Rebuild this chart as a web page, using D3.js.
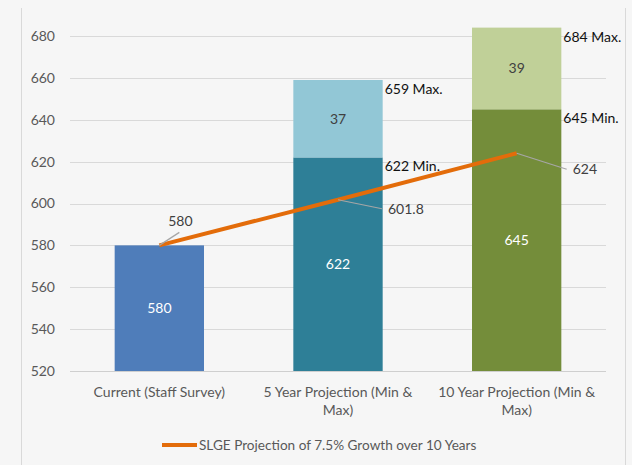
<!DOCTYPE html>
<html>
<head>
<meta charset="utf-8">
<script src="https://cdn.jsdelivr.net/npm/d3@7"></script>
<style>
  html, body { margin: 0; padding: 0; background: #f6f6f6; }
  svg { display: block; font-family: Lato, "Open Sans", sans-serif; }
</style>
</head>
<body>
<div id="chart"></div>
<script>
// data
const categories = ["Current (Staff Survey)", "5 Year Projection (Min & Max)", "10 Year Projection (Min & Max)"];
const categoryLines = [["Current (Staff Survey)"], ["5 Year Projection (Min &", "Max)"], ["10 Year Projection (Min &", "Max)"]];
const minValues = [580, 622, 645];
const rangeValues = [0, 37, 39];
const growthValues = [580, 601.8, 624];
const yTicks = [520, 540, 560, 580, 600, 620, 640, 660, 680];
const legendLabel = "SLGE Projection of 7.5% Growth over 10 Years";

const baseColors = ["#4f7dba", "#2e7f97", "#748d3a"];
const topColors = [null, "#92c7d6", "#c0d098"];

const width = 632, height = 465;
const plotLeft = 70, plotRight = 606, plotTop = 36, plotBottom = 371;

const svg = d3.select("#chart").append("svg")
    .attr("width", width)
    .attr("height", height);

// chart frame
svg.append("rect").attr("width", width).attr("height", height).attr("fill", "#f6f6f6");
svg.append("line").attr("x1", 21.5).attr("x2", 21.5).attr("y1", 8).attr("y2", height)
    .attr("stroke", "#d9d9d9");
svg.append("line").attr("x1", 625.5).attr("x2", 625.5).attr("y1", 8).attr("y2", height)
    .attr("stroke", "#d9d9d9");

const x = d3.scaleBand().domain(categories).range([plotLeft, plotRight]).paddingInner(0.5).paddingOuter(0.25);
const y = d3.scaleLinear().domain([520, 680]).range([plotBottom, plotTop]);

// gridlines
svg.append("g")
    .selectAll("line")
    .data(yTicks)
    .enter()
    .append("line")
    .attr("x1", plotLeft)
    .attr("x2", plotRight)
    .attr("y1", d => Math.round(y(d)) + 0.5)
    .attr("y2", d => Math.round(y(d)) + 0.5)
    .attr("stroke", d => d === 520 ? "#cfcfcf" : "#d9d9d9")
    .attr("stroke-width", 1.2);

// y tick labels
const yaxis = d3.axisLeft(y).tickValues(yTicks).tickSize(0).tickPadding(15);
const gy = svg.append("g").attr("transform", "translate(" + plotLeft + ",0)").call(yaxis);
gy.select(".domain").remove();
gy.selectAll("text").attr("fill", "#595959").style("font-size", "14px")
    .attr("font-family", "Lato, 'Open Sans', sans-serif");

// bars: base segment
svg.append("g")
    .selectAll("rect")
    .data(categories)
    .enter()
    .append("rect")
    .attr("x", d => x(d))
    .attr("width", x.bandwidth())
    .attr("y", (d, i) => y(minValues[i]))
    .attr("height", (d, i) => y(520) - y(minValues[i]))
    .attr("fill", (d, i) => baseColors[i]);

// bars: min-to-max segment
svg.append("g")
    .selectAll("rect")
    .data(categories.filter((d, i) => rangeValues[i] > 0))
    .enter()
    .append("rect")
    .attr("x", d => x(d))
    .attr("width", x.bandwidth())
    .attr("y", d => { const i = categories.indexOf(d); return y(minValues[i] + rangeValues[i]); })
    .attr("height", d => { const i = categories.indexOf(d); return y(minValues[i]) - y(minValues[i] + rangeValues[i]); })
    .attr("fill", d => topColors[categories.indexOf(d)]);

// value labels inside bars
const cx = d => x(d) + x.bandwidth() / 2;
svg.append("g")
    .selectAll("text")
    .data(categories)
    .enter()
    .append("text")
    .attr("x", cx)
    .attr("y", (d, i) => y((520 + minValues[i]) / 2))
    .attr("dy", "0.35em")
    .attr("text-anchor", "middle")
    .attr("fill", "#ffffff")
    .style("font-size", "14px")
    .text((d, i) => minValues[i]);

svg.append("g")
    .selectAll("text")
    .data(categories.filter((d, i) => rangeValues[i] > 0))
    .enter()
    .append("text")
    .attr("x", cx)
    .attr("y", d => { const i = categories.indexOf(d); return y(minValues[i] + rangeValues[i] / 2); })
    .attr("dy", "0.35em")
    .attr("text-anchor", "middle")
    .attr("fill", "#404040")
    .style("font-size", "14px")
    .text(d => rangeValues[categories.indexOf(d)]);

// min / max callouts to the right of bars
const callouts = [];
categories.forEach((d, i) => {
    if (rangeValues[i] > 0) {
        callouts.push({ cat: d, v: minValues[i] + rangeValues[i], txt: (minValues[i] + rangeValues[i]) + " Max." });
        callouts.push({ cat: d, v: minValues[i], txt: minValues[i] + " Min." });
    }
});
svg.append("g")
    .selectAll("text")
    .data(callouts)
    .enter()
    .append("text")
    .attr("x", d => x(d.cat) + x.bandwidth() + 2)
    .attr("y", d => y(d.v) + 9)
    .attr("dy", "0.35em")
    .attr("fill", "#111111")
    .style("font-size", "14px")
    .text(d => d.txt);

// growth line
const line = d3.line()
    .x((d, i) => cx(categories[i]))
    .y(d => y(d));

svg.append("path")
    .attr("d", line(growthValues))
    .attr("fill", "none")
    .attr("stroke", "#e36c0a")
    .attr("stroke-width", 4);

// growth labels with leader lines
const leaderOffsets = [[20, -13], [44, 9], [50, 16]];
const gLab = svg.append("g");
growthValues.forEach((v, i) => {
    const px = cx(categories[i]), py = y(v);
    const o = leaderOffsets[i];
    gLab.append("line")
        .attr("x1", px).attr("y1", py)
        .attr("x2", px + o[0]).attr("y2", py + o[1])
        .attr("stroke", "#a6a6a6").attr("stroke-width", 1.2);
    gLab.append("text")
        .attr("x", i === 0 ? px + 21 : px + o[0] + 6)
        .attr("y", i === 0 ? py + o[1] - 11 : py + o[1])
        .attr("dy", "0.35em")
        .attr("text-anchor", i === 0 ? "middle" : "start")
        .attr("fill", "#404040")
        .style("font-size", "14px")
        .text(v);
});

// x labels
const gx = svg.append("g");
categories.forEach((c, i) => {
    const t = gx.append("text")
        .attr("x", cx(c))
        .attr("y", 397)
        .attr("text-anchor", "middle")
        .attr("fill", "#595959")
        .style("font-size", "14px");
    categoryLines[i].forEach((ln, j) => {
        t.append("tspan").attr("x", cx(c)).attr("dy", j === 0 ? 0 : 18).text(ln);
    });
});

// legend
svg.append("line")
    .attr("x1", 162).attr("x2", 197).attr("y1", 445).attr("y2", 445)
    .attr("stroke", "#e36c0a").attr("stroke-width", 4);
svg.append("text")
    .attr("x", 199).attr("y", 445).attr("dy", "0.35em")
    .attr("fill", "#595959")
    .style("font-size", "13.6px")
    .text(legendLabel);
</script>
</body>
</html>
